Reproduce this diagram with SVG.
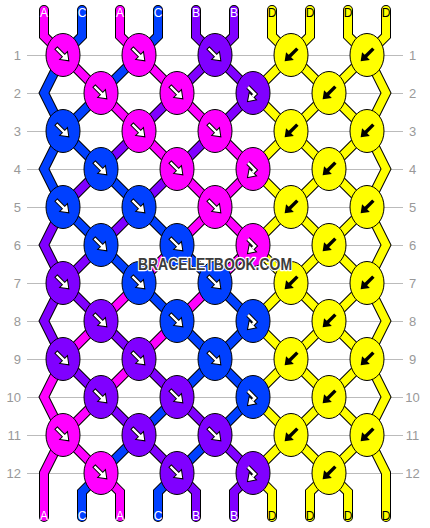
<svg xmlns="http://www.w3.org/2000/svg" xmlns:xlink="http://www.w3.org/1999/xlink" width="430" height="528" viewBox="0 0 430 528">
<style>
.grid line{stroke:#bbb;stroke-width:1}
.grid text{fill:#999;font-family:"Liberation Sans",Arial,sans-serif;font-size:13px}
.ol{fill:none;stroke:#000;stroke-width:10;stroke-linecap:round;stroke-linejoin:miter}
.th{fill:none;stroke-width:8;stroke-linecap:round;stroke-linejoin:miter}
.sa{stroke:#FF00FF}.sc{stroke:#0040FF}.sb{stroke:#8000FF}.sd{stroke:#FFFF00}
.knot ellipse{stroke:#000;stroke-width:1}
.fa{fill:#FF00FF}.fc{fill:#0040FF}.fb{fill:#8000FF}.fd{fill:#FFFF00}
.lbl text{font-family:"Liberation Sans",Arial,sans-serif;font-size:12px;text-anchor:middle}
.w{fill:#fff}.k{fill:#000}
</style>
<defs>
<polygon id="arw" points="-9,-1.7 1.5,-1.7 1.5,-5.5 9,0 1.5,5.5 1.5,1.7 -9,1.7"/>
<g id="fwd"><use xlink:href="#arw" href="#arw" transform="translate(-0.5,-0.5) rotate(45)" fill="#fff" stroke="#000" stroke-width="1"/></g>
<g id="bwd"><use xlink:href="#arw" href="#arw" transform="rotate(135)" fill="#000"/></g>
<g id="fbk">
<path d="M-5,-6 L2,1 L-0.5,3.5" fill="none" stroke="#000" stroke-width="4.6"/>
<polygon points="2.5,6.5 -4.9,7.9 -3.5,0.5" fill="#000" stroke="#000" stroke-width="2"/>
<path d="M-5,-6 L2,1 L-0.5,3.5" fill="none" stroke="#fff" stroke-width="2.6"/>
<polygon points="2.5,6.5 -4.9,7.9 -3.5,0.5" fill="#fff"/>
</g>
<path id="pA" d="M44,10 L44,36 L63,55 M120,10 L120,36 L139,55 M63,359 L44,397 L63,435 M63,435 L44,473 L44,517 M63,55 L101,93 M139,55 L177,93 M101,93 L139,131 M177,93 L215,131 M139,131 L177,169 M215,131 L253,169 M177,169 L215,207 M253,169 L215,207 M215,207 L177,245 M215,207 L253,245 M177,245 L139,283 M253,245 L215,283 M139,283 L101,321 M215,283 L177,321 M101,321 L63,359 M177,321 L139,359 M139,359 L101,397 M101,397 L63,435 M63,435 L101,473 M101,473 L120,492 L120,517"/>
<path id="pC" d="M82,10 L82,36 L63,55 M158,10 L158,36 L139,55 M63,55 L44,93 L63,131 M63,131 L44,169 L63,207 M139,55 L101,93 M101,93 L63,131 M63,131 L101,169 M101,169 L139,207 M63,207 L101,245 M139,207 L177,245 M101,245 L139,283 M177,245 L215,283 M139,283 L177,321 M215,283 L253,321 M177,321 L215,359 M253,321 L215,359 M215,359 L177,397 M215,359 L253,397 M177,397 L139,435 M253,397 L215,435 M139,435 L101,473 M215,435 L177,473 M101,473 L82,492 L82,517 M177,473 L158,492 L158,517"/>
<path id="pB" d="M196,10 L196,36 L215,55 M234,10 L234,36 L215,55 M63,207 L44,245 L63,283 M63,283 L44,321 L63,359 M215,55 L177,93 M215,55 L253,93 M177,93 L139,131 M253,93 L215,131 M139,131 L101,169 M215,131 L177,169 M101,169 L63,207 M177,169 L139,207 M139,207 L101,245 M101,245 L63,283 M63,283 L101,321 M101,321 L139,359 M63,359 L101,397 M139,359 L177,397 M101,397 L139,435 M177,397 L215,435 M139,435 L177,473 M215,435 L253,473 M177,473 L196,492 L196,517 M253,473 L234,492 L234,517"/>
<path id="pD" d="M272,10 L272,36 L291,55 L253,93 L291,131 L253,169 L291,207 L253,245 L291,283 L253,321 L291,359 L253,397 L291,435 L253,473 L272,492 L272,517 M310,10 L310,36 L291,55 L329,93 L291,131 L329,169 L291,207 L329,245 L291,283 L329,321 L291,359 L329,397 L291,435 L329,473 L310,492 L310,517 M348,10 L348,36 L367,55 L329,93 L367,131 L329,169 L367,207 L329,245 L367,283 L329,321 L367,359 L329,397 L367,435 L329,473 L348,492 L348,517 M386,10 L386,36 L367,55 L386,93 L367,131 L386,169 L367,207 L386,245 L367,283 L386,321 L367,359 L386,397 L367,435 L386,473 L386,517"/>
</defs>
<rect width="430" height="528" fill="#fff"/>
<g class="grid" id="grid">
<line x1="27" y1="55.5" x2="403" y2="55.5"/><line x1="27" y1="93.5" x2="403" y2="93.5"/><line x1="27" y1="131.5" x2="403" y2="131.5"/><line x1="27" y1="169.5" x2="403" y2="169.5"/><line x1="27" y1="207.5" x2="403" y2="207.5"/><line x1="27" y1="245.5" x2="403" y2="245.5"/><line x1="27" y1="283.5" x2="403" y2="283.5"/><line x1="27" y1="321.5" x2="403" y2="321.5"/><line x1="27" y1="359.5" x2="403" y2="359.5"/><line x1="27" y1="397.5" x2="403" y2="397.5"/><line x1="27" y1="435.5" x2="403" y2="435.5"/><line x1="27" y1="473.5" x2="403" y2="473.5"/>
<g text-anchor="end">
<text x="21" y="60">1</text><text x="21" y="98">2</text><text x="21" y="136">3</text><text x="21" y="174">4</text><text x="21" y="212">5</text><text x="21" y="250">6</text><text x="21" y="288">7</text><text x="21" y="326">8</text><text x="21" y="364">9</text><text x="21" y="402">10</text><text x="21" y="440">11</text><text x="21" y="478">12</text>
</g>
<g text-anchor="middle">
<text x="412.5" y="60">1</text><text x="412.5" y="98">2</text><text x="412.5" y="136">3</text><text x="412.5" y="174">4</text><text x="412.5" y="212">5</text><text x="412.5" y="250">6</text><text x="412.5" y="288">7</text><text x="412.5" y="326">8</text><text x="412.5" y="364">9</text><text x="412.5" y="402">10</text><text x="412.5" y="440">11</text><text x="412.5" y="478">12</text>
</g>
</g>
<g id="connectors">
<use xlink:href="#pA" href="#pA" class="ol"/>
<use xlink:href="#pC" href="#pC" class="ol"/>
<use xlink:href="#pB" href="#pB" class="ol"/>
<use xlink:href="#pD" href="#pD" class="ol"/>
<use xlink:href="#pA" href="#pA" class="th sa"/>
<use xlink:href="#pC" href="#pC" class="th sc"/>
<use xlink:href="#pB" href="#pB" class="th sb"/>
<use xlink:href="#pD" href="#pD" class="th sd"/>
</g>
<g id="knots" class="knot">
<g id="k1-1" transform="translate(63,55)"><ellipse rx="17" ry="21.5" class="fa"/><use href="#fwd" xlink:href="#fwd"/></g>
<g id="k1-2" transform="translate(139,55)"><ellipse rx="17" ry="21.5" class="fa"/><use href="#fwd" xlink:href="#fwd"/></g>
<g id="k1-3" transform="translate(215,55)"><ellipse rx="17" ry="21.5" class="fb"/><use href="#fwd" xlink:href="#fwd"/></g>
<g id="k1-4" transform="translate(291,55)"><ellipse rx="17" ry="21.5" class="fd"/><use href="#bwd" xlink:href="#bwd"/></g>
<g id="k1-5" transform="translate(367,55)"><ellipse rx="17" ry="21.5" class="fd"/><use href="#bwd" xlink:href="#bwd"/></g>
<g id="k2-1" transform="translate(101,93)"><ellipse rx="17" ry="21.5" class="fa"/><use href="#fwd" xlink:href="#fwd"/></g>
<g id="k2-2" transform="translate(177,93)"><ellipse rx="17" ry="21.5" class="fa"/><use href="#fwd" xlink:href="#fwd"/></g>
<g id="k2-3" transform="translate(253,93)"><ellipse rx="17" ry="21.5" class="fb"/><use href="#fbk" xlink:href="#fbk"/></g>
<g id="k2-4" transform="translate(329,93)"><ellipse rx="17" ry="21.5" class="fd"/><use href="#bwd" xlink:href="#bwd"/></g>
<g id="k3-1" transform="translate(63,131)"><ellipse rx="17" ry="21.5" class="fc"/><use href="#fwd" xlink:href="#fwd"/></g>
<g id="k3-2" transform="translate(139,131)"><ellipse rx="17" ry="21.5" class="fa"/><use href="#fwd" xlink:href="#fwd"/></g>
<g id="k3-3" transform="translate(215,131)"><ellipse rx="17" ry="21.5" class="fa"/><use href="#fwd" xlink:href="#fwd"/></g>
<g id="k3-4" transform="translate(291,131)"><ellipse rx="17" ry="21.5" class="fd"/><use href="#bwd" xlink:href="#bwd"/></g>
<g id="k3-5" transform="translate(367,131)"><ellipse rx="17" ry="21.5" class="fd"/><use href="#bwd" xlink:href="#bwd"/></g>
<g id="k4-1" transform="translate(101,169)"><ellipse rx="17" ry="21.5" class="fc"/><use href="#fwd" xlink:href="#fwd"/></g>
<g id="k4-2" transform="translate(177,169)"><ellipse rx="17" ry="21.5" class="fa"/><use href="#fwd" xlink:href="#fwd"/></g>
<g id="k4-3" transform="translate(253,169)"><ellipse rx="17" ry="21.5" class="fa"/><use href="#fbk" xlink:href="#fbk"/></g>
<g id="k4-4" transform="translate(329,169)"><ellipse rx="17" ry="21.5" class="fd"/><use href="#bwd" xlink:href="#bwd"/></g>
<g id="k5-1" transform="translate(63,207)"><ellipse rx="17" ry="21.5" class="fc"/><use href="#fwd" xlink:href="#fwd"/></g>
<g id="k5-2" transform="translate(139,207)"><ellipse rx="17" ry="21.5" class="fc"/><use href="#fwd" xlink:href="#fwd"/></g>
<g id="k5-3" transform="translate(215,207)"><ellipse rx="17" ry="21.5" class="fa"/><use href="#fwd" xlink:href="#fwd"/></g>
<g id="k5-4" transform="translate(291,207)"><ellipse rx="17" ry="21.5" class="fd"/><use href="#bwd" xlink:href="#bwd"/></g>
<g id="k5-5" transform="translate(367,207)"><ellipse rx="17" ry="21.5" class="fd"/><use href="#bwd" xlink:href="#bwd"/></g>
<g id="k6-1" transform="translate(101,245)"><ellipse rx="17" ry="21.5" class="fc"/><use href="#fwd" xlink:href="#fwd"/></g>
<g id="k6-2" transform="translate(177,245)"><ellipse rx="17" ry="21.5" class="fc"/><use href="#fwd" xlink:href="#fwd"/></g>
<g id="k6-3" transform="translate(253,245)"><ellipse rx="17" ry="21.5" class="fa"/><use href="#fbk" xlink:href="#fbk"/></g>
<g id="k6-4" transform="translate(329,245)"><ellipse rx="17" ry="21.5" class="fd"/><use href="#bwd" xlink:href="#bwd"/></g>
<g id="k7-1" transform="translate(63,283)"><ellipse rx="17" ry="21.5" class="fb"/><use href="#fwd" xlink:href="#fwd"/></g>
<g id="k7-2" transform="translate(139,283)"><ellipse rx="17" ry="21.5" class="fc"/><use href="#fwd" xlink:href="#fwd"/></g>
<g id="k7-3" transform="translate(215,283)"><ellipse rx="17" ry="21.5" class="fc"/><use href="#fwd" xlink:href="#fwd"/></g>
<g id="k7-4" transform="translate(291,283)"><ellipse rx="17" ry="21.5" class="fd"/><use href="#bwd" xlink:href="#bwd"/></g>
<g id="k7-5" transform="translate(367,283)"><ellipse rx="17" ry="21.5" class="fd"/><use href="#bwd" xlink:href="#bwd"/></g>
<g id="k8-1" transform="translate(101,321)"><ellipse rx="17" ry="21.5" class="fb"/><use href="#fwd" xlink:href="#fwd"/></g>
<g id="k8-2" transform="translate(177,321)"><ellipse rx="17" ry="21.5" class="fc"/><use href="#fwd" xlink:href="#fwd"/></g>
<g id="k8-3" transform="translate(253,321)"><ellipse rx="17" ry="21.5" class="fc"/><use href="#fbk" xlink:href="#fbk"/></g>
<g id="k8-4" transform="translate(329,321)"><ellipse rx="17" ry="21.5" class="fd"/><use href="#bwd" xlink:href="#bwd"/></g>
<g id="k9-1" transform="translate(63,359)"><ellipse rx="17" ry="21.5" class="fb"/><use href="#fwd" xlink:href="#fwd"/></g>
<g id="k9-2" transform="translate(139,359)"><ellipse rx="17" ry="21.5" class="fb"/><use href="#fwd" xlink:href="#fwd"/></g>
<g id="k9-3" transform="translate(215,359)"><ellipse rx="17" ry="21.5" class="fc"/><use href="#fwd" xlink:href="#fwd"/></g>
<g id="k9-4" transform="translate(291,359)"><ellipse rx="17" ry="21.5" class="fd"/><use href="#bwd" xlink:href="#bwd"/></g>
<g id="k9-5" transform="translate(367,359)"><ellipse rx="17" ry="21.5" class="fd"/><use href="#bwd" xlink:href="#bwd"/></g>
<g id="k10-1" transform="translate(101,397)"><ellipse rx="17" ry="21.5" class="fb"/><use href="#fwd" xlink:href="#fwd"/></g>
<g id="k10-2" transform="translate(177,397)"><ellipse rx="17" ry="21.5" class="fb"/><use href="#fwd" xlink:href="#fwd"/></g>
<g id="k10-3" transform="translate(253,397)"><ellipse rx="17" ry="21.5" class="fc"/><use href="#fbk" xlink:href="#fbk"/></g>
<g id="k10-4" transform="translate(329,397)"><ellipse rx="17" ry="21.5" class="fd"/><use href="#bwd" xlink:href="#bwd"/></g>
<g id="k11-1" transform="translate(63,435)"><ellipse rx="17" ry="21.5" class="fa"/><use href="#fwd" xlink:href="#fwd"/></g>
<g id="k11-2" transform="translate(139,435)"><ellipse rx="17" ry="21.5" class="fb"/><use href="#fwd" xlink:href="#fwd"/></g>
<g id="k11-3" transform="translate(215,435)"><ellipse rx="17" ry="21.5" class="fb"/><use href="#fwd" xlink:href="#fwd"/></g>
<g id="k11-4" transform="translate(291,435)"><ellipse rx="17" ry="21.5" class="fd"/><use href="#bwd" xlink:href="#bwd"/></g>
<g id="k11-5" transform="translate(367,435)"><ellipse rx="17" ry="21.5" class="fd"/><use href="#bwd" xlink:href="#bwd"/></g>
<g id="k12-1" transform="translate(101,473)"><ellipse rx="17" ry="21.5" class="fa"/><use href="#fwd" xlink:href="#fwd"/></g>
<g id="k12-2" transform="translate(177,473)"><ellipse rx="17" ry="21.5" class="fb"/><use href="#fwd" xlink:href="#fwd"/></g>
<g id="k12-3" transform="translate(253,473)"><ellipse rx="17" ry="21.5" class="fb"/><use href="#fbk" xlink:href="#fbk"/></g>
<g id="k12-4" transform="translate(329,473)"><ellipse rx="17" ry="21.5" class="fd"/><use href="#bwd" xlink:href="#bwd"/></g>
</g>
<g id="labels" class="lbl">
<text x="44" y="17" class="w">A</text><text x="82" y="17" class="w">C</text><text x="120" y="17" class="w">A</text><text x="158" y="17" class="w">C</text><text x="196" y="17" class="w">B</text><text x="234" y="17" class="w">B</text><text x="272" y="17" class="k">D</text><text x="310" y="17" class="k">D</text><text x="348" y="17" class="k">D</text><text x="386" y="17" class="k">D</text>
<text x="44" y="520" class="w">A</text><text x="82" y="520" class="w">C</text><text x="120" y="520" class="w">A</text><text x="158" y="520" class="w">C</text><text x="196" y="520" class="w">B</text><text x="234" y="520" class="w">B</text><text x="272" y="520" class="k">D</text><text x="310" y="520" class="k">D</text><text x="348" y="520" class="k">D</text><text x="386" y="520" class="k">D</text>
</g>
<g id="watermark">
<text x="215" y="270" font-family="'Liberation Sans',Arial,sans-serif" font-size="17" font-weight="bold" text-anchor="middle" textLength="154" lengthAdjust="spacingAndGlyphs" fill="#3c3c3c" stroke="#fff" stroke-width="2.5" paint-order="stroke" stroke-linejoin="round">BRACELETBOOK.COM</text>
</g>
</svg>
